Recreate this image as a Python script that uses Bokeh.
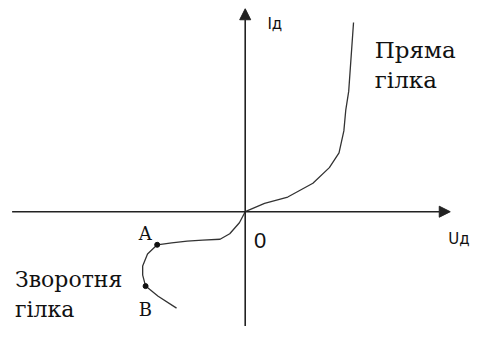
from bokeh.plotting import figure
from bokeh.models import Arrow, NormalHead
from bokeh.core.properties import value
from bokeh.embed import file_html
from bokeh.resources import INLINE

# Forward branch (U, I) in arbitrary units
forward_u = [0.0, 1.0, 2.2, 3.5, 4.35, 4.85, 5.1, 5.2, 5.35, 5.6]
forward_i = [0.0, 0.45, 0.8, 1.55, 2.4, 3.2, 4.4, 5.55, 6.55, 10.3]

# Reverse branch (U, I)
reverse_u = [0.0, -0.3, -0.8, -1.3, -2.2, -3.0, -3.8, -4.55, -5.05, -5.3, -5.3, -5.15, -4.5, -3.55]
reverse_i = [0.0, -0.6, -1.2, -1.5, -1.55, -1.6, -1.7, -1.8, -2.3, -2.95, -3.45, -4.05, -4.6, -5.25]

# Marked points A and B
point_names = ["A", "B"]
point_u = [-4.55, -5.15]
point_i = [-1.8, -4.05]

fig = figure(width=472, height=326, output_backend="svg", toolbar_location=None,
             x_range=(-12.65, 11.75), y_range=(-6.25, 11.5), min_border=0, title=None)
fig.axis.visible = False
fig.grid.visible = False
fig.outline_line_color = None
fig.background_fill_color = "white"
fig.border_fill_color = "white"

axis_color = "#222222"
# horizontal axis with arrow
fig.add_layout(Arrow(end=NormalHead(size=11, fill_color=axis_color, line_color=axis_color),
                     x_start=-12.05, y_start=0, x_end=10.6, y_end=0,
                     line_color=axis_color, line_width=1.6))
# vertical axis with arrow
fig.add_layout(Arrow(end=NormalHead(size=11, fill_color=axis_color, line_color=axis_color),
                     x_start=0, y_start=-7.0, x_end=0, y_end=11.05,
                     line_color=axis_color, line_width=1.6))

curve_color = "#333333"
fig.line(forward_u, forward_i, line_color=curve_color, line_width=1.3)
fig.line(reverse_u, reverse_i, line_color=curve_color, line_width=1.3)
fig.scatter(point_u, point_i, size=5, color="#111111")

serif = value("DejaVu Serif")
sans = value("DejaVu Sans")

fig.text(x=[-5.5, -5.5], y=[-1.2, -5.3], text=point_names, text_font=serif,
         text_font_size="18px", text_color="#111111", text_baseline="alphabetic")

fig.text(x=[6.7, 6.7], y=[8.8, 7.15], text=["Пряма", "гілка"], text_font=serif,
         text_font_size="23px", text_color="#111111", text_baseline="alphabetic")
fig.text(x=[-11.9, -11.9], y=[-3.7, -5.3], text=["Зворотня", "гілка"], text_font=serif,
         text_font_size="22px", text_color="#111111", text_baseline="alphabetic")

fig.text(x=[1.15], y=[10.2], text=["Iд"], text_font=sans,
         text_font_size="15px", text_color="#111111", text_baseline="alphabetic")
fig.text(x=[10.5], y=[-1.5], text=["Uд"], text_font=sans,
         text_font_size="15px", text_color="#111111", text_baseline="alphabetic")
fig.text(x=[0.45], y=[-1.55], text=["0"], text_font=value("Liberation Sans"),
         text_font_size="22px", text_color="#111111", text_baseline="alphabetic")

open("out.html", "w").write(file_html(fig, INLINE))
